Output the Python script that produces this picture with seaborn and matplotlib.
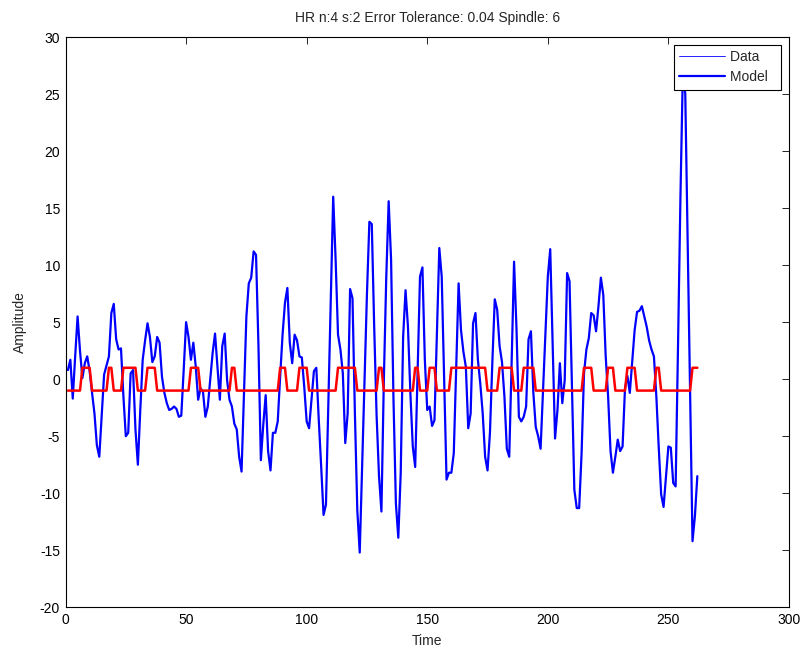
import numpy as np
import pandas as pd
import seaborn as sns
import matplotlib
matplotlib.use("Agg")
import matplotlib.pyplot as plt
from matplotlib.lines import Line2D

# Recorded signal, one sample per time step
amplitude = [
    0.8, 1.7, -1.7, 2.0, 5.5, 2.5, 0.1, 1.4, 2.0, 0.7,
    -1.2, -3.0, -5.8, -6.8, -3.2, 0.4, 1.2, 2.0, 5.8, 6.6,
    3.5, 2.6, 2.7, -1.5, -5.0, -4.7, 0.5, 0.8, -4.4, -7.5,
    -2.7, 1.7, 3.4, 4.9, 3.7, 1.5, 2.0, 3.7, 3.2, 0.2,
    -1.2, -2.1, -2.7, -2.6, -2.4, -2.6, -3.3, -3.2, 0.8, 5.0,
    3.7, 1.7, 3.2, 1.1, -1.8, -0.8, -1.1, -3.3, -2.4, -0.1,
    2.3, 4.0, 1.1, -1.8, 2.9, 4.0, -0.1, -1.8, -2.4, -3.9,
    -4.4, -6.8, -8.1, -1.2, 5.5, 8.4, 8.9, 11.2, 10.9, 3.0,
    -7.1, -4.0, -1.4, -6.3, -8.0, -4.7, -4.7, -3.7, 0.2, 3.9,
    6.7, 8.0, 3.2, 1.4, 3.9, 3.4, 2.0, 1.9, -0.7, -3.7,
    -4.3, -1.8, 0.7, 1.0, -3.5, -7.6, -11.9, -11.0, -2.0, 6.9,
    16.0, 10.5, 3.9, 2.6, 0.5, -5.6, -3.0, 7.9, 7.1, -3.0,
    -11.5, -15.2, -7.6, -0.1, 7.5, 13.8, 13.6, 4.6, -3.2, -8.5,
    -11.6, -0.1, 8.9, 15.6, 10.5, -1.8, -10.9, -13.9, -8.2, 3.7,
    7.8, 4.6, -1.2, -5.9, -7.7, 0.7, 9.0, 9.8, 1.7, -2.7,
    -2.4, -4.1, -3.6, 4.0, 11.5, 9.0, 0.0, -8.8, -8.2, -8.2,
    -6.5, 1.1, 8.4, 4.3, 2.4, 1.1, -4.3, -3.0, 4.9, 5.8,
    1.7, -0.4, -3.0, -6.8, -8.0, -4.7, 1.5, 7.0, 6.1, 2.9,
    1.5, -1.5, -6.1, -6.8, 1.5, 10.3, 4.5, -3.3, -3.7, -3.3,
    -2.4, 3.5, 4.2, -1.2, -4.2, -5.0, -6.1, -1.0, 4.0, 9.0,
    11.4, 3.2, -5.2, -2.7, 1.4, -2.1, -0.1, 9.3, 8.6, -0.6,
    -9.7, -11.3, -11.3, -6.5, 0.5, 2.6, 3.6, 5.8, 5.6, 4.2,
    6.4, 8.9, 7.4, 2.0, -1.5, -6.3, -8.2, -6.8, -5.3, -6.3,
    -5.9, -0.8, 0.3, -1.2, 1.5, 4.3, 5.9, 6.0, 6.4, 5.5,
    4.6, 3.4, 2.6, 2.0, -1.5, -6.0, -10.1, -11.2, -8.5, -5.9,
    -6.0, -9.1, -9.4, 3.0, 16.0, 27.0, 25.0, 12.0, -1.0, -14.2,
    -12.0, -8.5,
]
time = np.arange(1, len(amplitude) + 1)

# Spindle model: +1 inside these sample ranges (inclusive), -1 elsewhere
model_on_start = [7, 18, 24, 34, 52, 69, 89, 97, 113, 130,
                  145, 151, 160, 180, 190, 215, 225, 233, 245, 260]
model_on_end = [10, 19, 29, 37, 55, 70, 91, 100, 120, 131,
                146, 153, 174, 185, 194, 218, 227, 236, 246, 262]

model = -np.ones(len(time))
for s, e in zip(model_on_start, model_on_end):
    model[(time >= s) & (time <= e)] = 1.0

df = pd.DataFrame({"Time": time, "Amplitude": amplitude, "Model": model})

x_ticks = [0, 50, 100, 150, 200, 250, 300]
y_ticks = [-20, -15, -10, -5, 0, 5, 10, 15, 20, 25, 30]
legend_labels = ["Data", "Model"]

sns.set_theme(style="white")
plt.rcParams["font.family"] = ["Liberation Sans", "DejaVu Sans"]
plt.rcParams["font.size"] = 10

fig = plt.figure(figsize=(8.04, 6.48), dpi=100)
ax = fig.add_axes([0.0815, 0.0628, 0.8998, 0.8801])

sns.lineplot(data=df, x="Time", y="Amplitude", ax=ax, color=(0, 0, 1),
             linewidth=1.6, legend=False, estimator=None)
sns.lineplot(data=df, x="Time", y="Model", ax=ax, color=(1, 0, 0),
             linewidth=1.8, legend=False, estimator=None)

ax.set_xlim(0, 300)
ax.set_ylim(-20, 30)
ax.set_xticks(x_ticks)
ax.set_yticks(y_ticks)
ax.set_xticklabels([str(v) for v in x_ticks])
ax.set_yticklabels([str(v) for v in y_ticks])
ax.tick_params(direction="in", length=5, width=0.6, top=True, right=True,
               labelsize=10, colors="black", pad=4)
for sp in ax.spines.values():
    sp.set_visible(True)
    sp.set_color("black")
    sp.set_linewidth(0.8)

ax.set_xlabel("Time", fontsize=10, labelpad=5)
ax.set_ylabel("Amplitude", fontsize=10, labelpad=9)
ax.set_title("HR n:4 s:2 Error Tolerance: 0.04 Spindle: 6", fontsize=10, pad=10.5)

# Legend: thin stroke for the raw data, thick stroke for the model
handles = [Line2D([], [], color=(0, 0, 1), linewidth=0.6),
           Line2D([], [], color=(0, 0, 1), linewidth=1.6)]
leg = ax.legend(handles, [lab + "  " for lab in legend_labels],
                loc="upper right", fontsize=10,
                frameon=True, fancybox=False, framealpha=1, edgecolor="black",
                borderpad=0.4, labelspacing=0.42, handlelength=3.3,
                handletextpad=0.35, borderaxespad=0.55)
leg.get_frame().set_linewidth(0.8)

fig.savefig("out.png", dpi=100, facecolor="white")
